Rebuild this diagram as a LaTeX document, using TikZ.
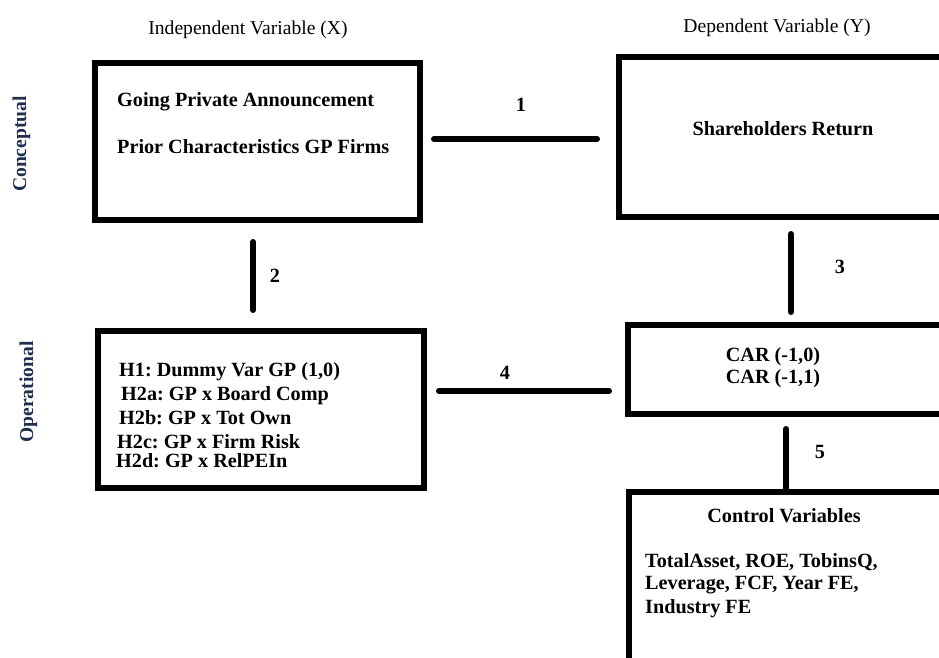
\documentclass[tikz,border=0pt]{standalone}
\usepackage{fontspec}
\setmainfont{Liberation Serif}
\frenchspacing
\definecolor{sidecol}{HTML}{1F2F4F}
\tikzset{
  boxframe/.style={draw=black, line width=6pt, rectangle, inner sep=0pt},
  conn/.style={draw=black, line width=6pt, line cap=round},
  txt/.style={font=\fontsize{20.2}{23}\selectfont\bfseries, inner sep=0pt},
  hdr/.style={font=\fontsize{19.6}{23}\selectfont, inner sep=0pt},
  side/.style={font=\fontsize{19.6}{23}\selectfont\bfseries, text=sidecol, rotate=90, anchor=base, inner sep=0pt},
}
\begin{document}
\begin{tikzpicture}[x=1pt,y=-1pt]
\useasboundingbox (0,0) rectangle (939,657);
\clip (0,0) rectangle (939,657);
\fill[white] (0,0) rectangle (939,657);

% headers
\node[hdr, anchor=base] (hx) at (248,34) {Independent Variable (X)};
\node[hdr, anchor=base] (hy) at (777,32) {Dependent Variable (Y)};

% side labels
\node[side] (sc) at (26,144) {Conceptual};
\node[side] (so) at (33,392) {Operational};

% boxes
\node[boxframe, minimum width=325pt, minimum height=157pt] (A) at (257.5,141.5) {};
\node[boxframe, minimum width=400pt, minimum height=160pt] (B) at (819,137) {};
\node[boxframe, minimum width=326pt, minimum height=157pt] (C) at (261,409.5) {};
\node[boxframe, minimum width=400pt, minimum height=89pt] (D) at (828,369.5) {};
\node[boxframe, minimum width=400pt, minimum height=308pt] (E) at (829,646) {};

% box texts
\node[txt, anchor=base west] (a1) at (117,106) {Going Private Announcement};
\node[txt, anchor=base west] (a2) at (117,153) {Prior Characteristics GP Firms};
\node[txt, anchor=base] (b1) at (783,135) {Shareholders Return};
\node[txt, anchor=base west] (c1) at (119,376) {H1: Dummy Var GP (1,0)};
\node[txt, anchor=base west] (c2) at (121,400) {H2a: GP x Board Comp};
\node[txt, anchor=base west] (c3) at (119,424) {H2b: GP x Tot Own};
\node[txt, anchor=base west] (c4) at (117,448) {H2c: GP x Firm Risk};
\node[txt, anchor=base west] (c5) at (116,467) {H2d: GP x RelPEIn};
\node[txt, anchor=base] (d1) at (773,361) {CAR (-1,0)};
\node[txt, anchor=base] (d2) at (773,383) {CAR (-1,1)};
\node[txt, anchor=base] (e1) at (784,522) {Control Variables};
\node[txt, anchor=base west] (e2) at (645,567) {TotalAsset, ROE, TobinsQ,};
\node[txt, anchor=base west] (e3) at (645,589) {Leverage, FCF, Year FE,};
\node[txt, anchor=base west] (e4) at (645,613) {Industry FE};

% connectors
\draw[conn, shorten <=11pt, shorten >=19pt] ([yshift=2.5pt]A.east) -- ([yshift=2.5pt]A.east -| B.west);
\draw[conn, shorten <=19pt, shorten >=18pt] ([xshift=-4.5pt]A.south) -- ([xshift=-4.5pt]A.south |- C.north);
\draw[conn, shorten <=14pt, shorten >=10pt] ([xshift=-28pt]B.south) -- ([xshift=-28pt]B.south |- D.north);
\draw[conn, shorten <=12pt, shorten >=16pt] ([yshift=18.5pt]C.east) -- ([yshift=18.5pt]C.east -| D.west);
\draw[conn, shorten <=12pt] ([xshift=-42pt]D.south) -- ([xshift=-42pt]D.south |- E.north);

% connector labels
\node[txt] (n1) at (521,105) {1};
\node[txt] (n2) at (275,276) {2};
\node[txt] (n3) at (840,267) {3};
\node[txt] (n4) at (505,373) {4};
\node[txt] (n5) at (820,452) {5};
\end{tikzpicture}
\end{document}
